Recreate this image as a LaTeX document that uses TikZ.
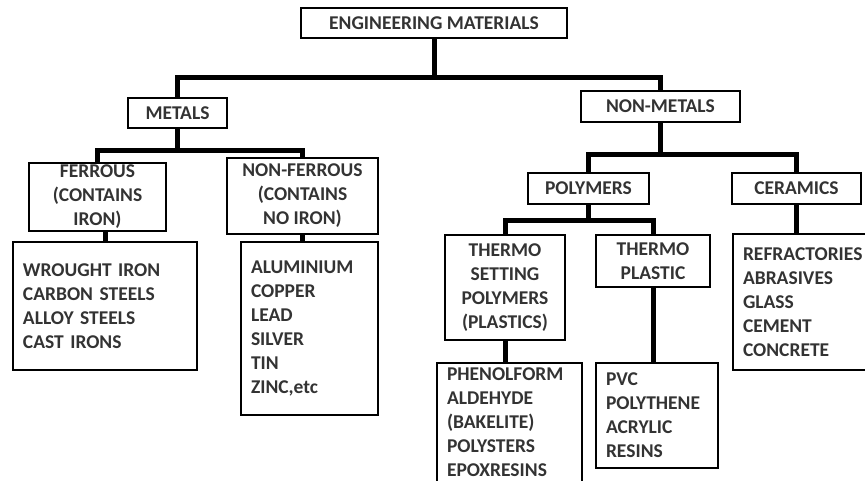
\documentclass[tikz,border=0pt]{standalone}
\usepackage{fontspec}
\setmainfont{Carlito}
\usetikzlibrary{positioning}

\tikzset{
    box/.style={draw, line width=1.8pt, inner sep=0pt, align=center,
        font=\fontsize{19.5}{24}\selectfont\bfseries, text=black!80},
    listbox/.style={box, align=left, inner xsep=10pt},
    conn/.style={line width=5pt}
}

\begin{document}
\begin{tikzpicture}[x=1pt, y=-1pt]

\useasboundingbox (0,0) rectangle (865,481);

% Top level
\node[box, minimum width=266, minimum height=30] (root) at (434,23) {ENGINEERING MATERIALS};

% Metals and non-metals
\node[box, minimum width=99, minimum height=30] (metals) at (177.5,113) {METALS};
\node[box, minimum width=159, minimum height=31] (nonmetals) at (660.5,106.5) {NON-METALS};

% Kinds of metals
\node[box, minimum width=137, minimum height=68] (ferrous) at (97.5,197) {FERROUS\\(CONTAINS\\IRON)};
\node[box, minimum width=151, minimum height=76] (nonferrous) at (302.5,196) {NON-FERROUS\\(CONTAINS\\NO IRON)};

% Kinds of non-metals
\node[box, minimum width=121, minimum height=31] (polymers) at (588.5,188.5) {POLYMERS};
\node[box, minimum width=129, minimum height=31] (ceramics) at (796.5,188.5) {CERAMICS};

% Kinds of polymers
\node[box, minimum width=120, minimum height=105] (tsetting) at (505,287.5) {THERMO\\SETTING\\POLYMERS\\(PLASTICS)};
\node[box, minimum width=114, minimum height=52] (tplastic) at (653,261) {THERMO\\PLASTIC};

% Lists of examples
\node[listbox, text width=164, minimum height=128] (ferlist) at (105,306)
    {WROUGHT IRON\\CARBON STEELS\\ALLOY STEELS\\CAST IRONS};
\node[listbox, text width=117, minimum height=173] (nflist) at (309.5,328.5)
    {ALUMINIUM\\COPPER\\LEAD\\SILVER\\TIN\\ZINC,etc};
\node[listbox, text width=125, minimum height=119] (tslist) at (509.5,422.5)
    {PHENOLFORM\\ALDEHYDE\\(BAKELITE)\\POLYSTERS\\EPOXRESINS};
\node[listbox, text width=102, minimum height=105] (tplist) at (657,415.5)
    {PVC\\POLYTHENE\\ACRYLIC\\RESINS};
\node[listbox, text width=130, minimum height=136] (cerlist) at (808,302)
    {REFRACTORIES\\ABRASIVES\\GLASS\\CEMENT\\CONCRETE};

% Branches
\draw[conn] (root.south) -- ++(0,39) -| (metals.north);
\draw[conn] (root.south) -- ++(0,39) -| (nonmetals.north);
\draw[conn] (metals.south) -- ++(0,22) -| (ferrous.north);
\draw[conn] (metals.south) -- ++(0,22) -| (nonferrous.north);
\draw[conn] (nonmetals.south) -- ++(0,32) -| (polymers.north);
\draw[conn] (nonmetals.south) -- ++(0,32) -| (ceramics.north);
\draw[conn] (polymers.south) -- ++(0,16) -| (tsetting.north);
\draw[conn] (polymers.south) -- ++(0,16) -| (tplastic.north);

% Down to the lists
\draw[conn] (ferlist.north) -- (ferlist.north |- ferrous.south);
\draw[conn] (nonferrous.south) -- (nonferrous.south |- nflist.north);
\draw[conn] (tsetting.south) -- (tsetting.south |- tslist.north);
\draw[conn] (tplastic.south) -- (tplastic.south |- tplist.north);
\draw[conn] (ceramics.south) -- (ceramics.south |- cerlist.north);

\end{tikzpicture}
\end{document}
